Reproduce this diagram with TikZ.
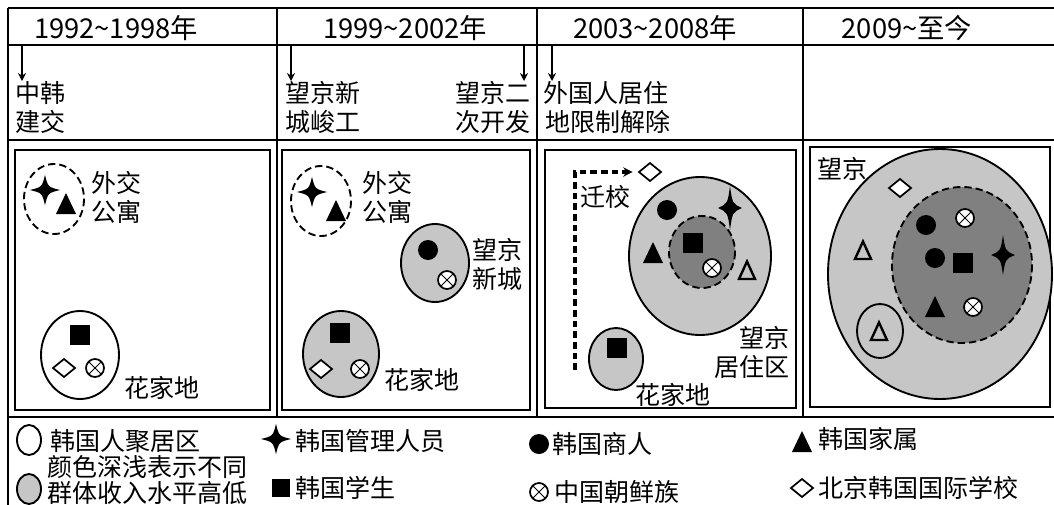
\documentclass[tikz,border=0pt]{standalone}
\usepackage{fontspec}
\setmainfont{Noto Sans CJK SC}
\usetikzlibrary{arrows.meta}
\definecolor{lgray}{RGB}{198,198,198}
\definecolor{dgray}{RGB}{128,128,128}
\tikzset{
  frameline/.style={line width=1.4pt},
  panelbox/.style={line width=2.2pt},
  zone/.style={line width=1.4pt},
  dzone/.style={line width=1.4pt, dash pattern=on 5.5pt off 3pt},
  txt/.style={inner sep=0pt, font=\fontsize{18.75}{21.75}\selectfont},
  hdr/.style={inner sep=0pt, font=\fontsize{20.5}{22}\selectfont},
  tl/.style={line width=0.9pt, -{Stealth[length=6pt,width=6pt]}},
  pics/kstar/.style 2 args={code={\fill (0,-#2) .. controls ({0.2*#1},{-0.2*#2}) .. (#1,0) .. controls ({0.2*#1},{0.2*#2}) .. (0,#2) .. controls ({-0.2*#1},{0.2*#2}) .. (-#1,0) .. controls ({-0.2*#1},{-0.2*#2}) .. (0,-#2) -- cycle;}},
  pics/ktri/.style={code={\fill (0,-11) -- (10,10) -- (-10,10) -- cycle;}},
  pics/khtri/.style={code={\draw[line width=1.8pt, line join=miter] (0,-8.5) -- (8,9) -- (-8,9) -- cycle;}},
  pics/ksq/.style={code={\fill (-10,-10) rectangle (10,10);}},
  pics/kdot/.style={code={\fill (0,0) circle (10);}},
  pics/kdia/.style={code={\draw[fill=white, line width=1.3pt] (0,-9) -- (11,0) -- (0,9) -- (-11,0) -- cycle;}},
  pics/kotm/.style={code={\draw[fill=white, line width=1.3pt] (0,0) circle (9); \draw[line width=0.7pt] (-6.4,-6.4) -- (6.4,6.4) (-6.4,6.4) -- (6.4,-6.4);}},
}
\begin{document}
\begin{tikzpicture}[x=0.75pt,y=-0.75pt]
\useasboundingbox (0,0) rectangle (1054,504);
\clip (0,0) rectangle (1054,504);
% frame
\draw[frameline] (8,8) -- (1070,8);
\draw[frameline] (8,45) -- (1070,45);
\draw[frameline] (8,140) -- (1070,140);
\draw[frameline] (8,417) -- (1070,417);
\draw[frameline] (8,8) -- (8,510);
\draw[frameline] (277,8) -- (277,417);
\draw[frameline] (537,8) -- (537,417);
\draw[frameline] (803,8) -- (803,417);
% headers
\node[hdr] (h1) at (116,28) {1992\textasciitilde{}1998年};
\node[hdr] (h2) at (405,28) {1999\textasciitilde{}2002年};
\node[hdr] (h3) at (655,28) {2003\textasciitilde{}2008年};
\node[hdr] (h4) at (907,28) {2009\textasciitilde{}至今};
% events
\node[txt, anchor=north west, align=left] (t1) at (15,81) {中韩\\建交};
\node[txt, anchor=north west, align=left] (t2) at (285,81) {望京新\\城峻工};
\node[txt, anchor=north east, align=right] (t3) at (531,81) {望京二\\次开发};
\node[txt, anchor=north west, align=left] (t4) at (543,81) {外国人居住\\\hspace{2pt}地限制解除};
\coordinate (a1) at (22,45);
\coordinate (a2) at (291,45);
\coordinate (a3) at (524,45);
\coordinate (a4) at (552,45);
\draw[tl] (a1) -- (a1 |- t1.north);
\draw[tl] (a2) -- (a2 |- t2.north);
\draw[tl] (a3) -- (a3 |- t3.north);
\draw[tl] (a4) -- (a4 |- t4.north);
% panel boxes
\draw[panelbox] (15,150) rectangle (270,410);
\draw[panelbox] (282,150) rectangle (530,410);
\draw[panelbox] (545,150) rectangle (796,408);
\draw[panelbox] (810,147) rectangle (1050,407);
% panel 1
\draw[dzone] (54,199) ellipse [x radius=30, y radius=35];
\pic at (45,190) {kstar={15}{15}};
\pic at (66,204) {ktri};
\node[txt, anchor=north west, align=left] (p1a) at (91,171) {外交\\公寓};
\draw[zone, fill=white] (80,355) ellipse [x radius=39, y radius=44];
\pic at (80,335) {ksq};
\pic at (64,368) {kdia};
\pic at (95,368) {kotm};
\node[txt, anchor=west] (p1b) at (124,388) {花家地};
% panel 2
\draw[dzone] (321,201) ellipse [x radius=30, y radius=35];
\pic at (312,192) {kstar={15}{15}};
\pic at (336,211) {ktri};
\node[txt, anchor=north west, align=left] (p2a) at (362,171) {外交\\公寓};
\draw[zone, fill=lgray] (435,263) ellipse [x radius=34, y radius=39];
\pic at (428,250) {kdot};
\pic at (447,280) {kotm};
\node[txt, anchor=north west, align=left] (p2b) at (472,238) {望京\\新城};
\draw[zone, fill=lgray] (341,354) ellipse [x radius=38, y radius=43];
\pic at (340,333) {ksq};
\pic at (321,369) {kdia};
\pic at (360,369) {kotm};
\node[txt, anchor=west] (p2c) at (384,380) {花家地};
% panel 3
\draw[zone, fill=lgray] (700,256) ellipse [x radius=71, y radius=79];
\draw[dzone, fill=dgray] (702,252) ellipse [x radius=33, y radius=36];
\pic at (667,210) {kdot};
\pic at (730,208) {kstar={12}{22}};
\pic at (653,253) {ktri};
\pic at (693,243) {ksq};
\pic at (712,268) {kotm};
\pic at (747,270) {khtri};
\node[txt, anchor=north east, align=right] (p3a) at (790,326) {望京\\居住区};
\draw[zone, fill=lgray] (616,359) ellipse [x radius=27, y radius=31];
\pic at (617,348) {ksq};
\node[txt, anchor=west] (p3b) at (635,395) {花家地};
\coordinate (m1) at (575,370);
\coordinate (d3) at (650,172);
\pic at (d3) {kdia};
\draw[line width=2.4pt, dash pattern=on 5pt off 3pt, -{Stealth[length=7pt,width=7pt]}, shorten >=13pt] (m1) |- (d3);
\node[txt, anchor=west] (p3c) at (580,197) {迁校};
% panel 4
\node[txt, anchor=west] (p4a) at (817,169) {望京};
\draw[zone, fill=lgray] (940,274) ellipse [x radius=112, y radius=125];
\draw[dzone, fill=dgray] (962,265) ellipse [x radius=70, y radius=78];
\pic at (900,188) {kdia};
\pic at (863,250) {khtri};
\draw[zone] (880,331) ellipse [x radius=23, y radius=27];
\pic at (879,331) {khtri};
\pic at (926,225) {kdot};
\pic at (965,218) {kotm};
\pic at (935,258) {kdot};
\pic at (963,263) {ksq};
\pic at (1003,255) {kstar={12}{20}};
\pic at (935,307) {ktri};
\pic at (973,307) {kotm};
% legend
\draw[zone, fill=white] (29,440) ellipse [x radius=12, y radius=15];
\draw[zone, fill=lgray] (29,489) ellipse [x radius=12, y radius=15];
\node[txt, anchor=west] (l1) at (50,441) {韩国人聚居区};
\node[txt, anchor=west, align=left, font=\fontsize{18.75}{19.5}\selectfont] (l2) at (47,480) {颜色深浅表示不同\\群体收入水平高低};
\pic at (276,439) {kstar={15}{15}};
\node[txt, anchor=west] (l3) at (295,441) {韩国管理人员};
\fill (272,479) rectangle (290,497);
\node[txt, anchor=west] (l4) at (295,488) {韩国学生};
\pic at (539,444) {kdot};
\node[txt, anchor=west] (l5) at (552,444) {韩国商人};
\pic at (539,492) {kotm};
\node[txt, anchor=west] (l6) at (554,492) {中国朝鲜族};
\pic at (802,442) {ktri};
\node[txt, anchor=west] (l7) at (818,439) {韩国家属};
\pic at (802,488) {kdia};
\node[txt, anchor=west] (l8) at (818,488) {北京韩国国际学校};
\end{tikzpicture}
\end{document}
